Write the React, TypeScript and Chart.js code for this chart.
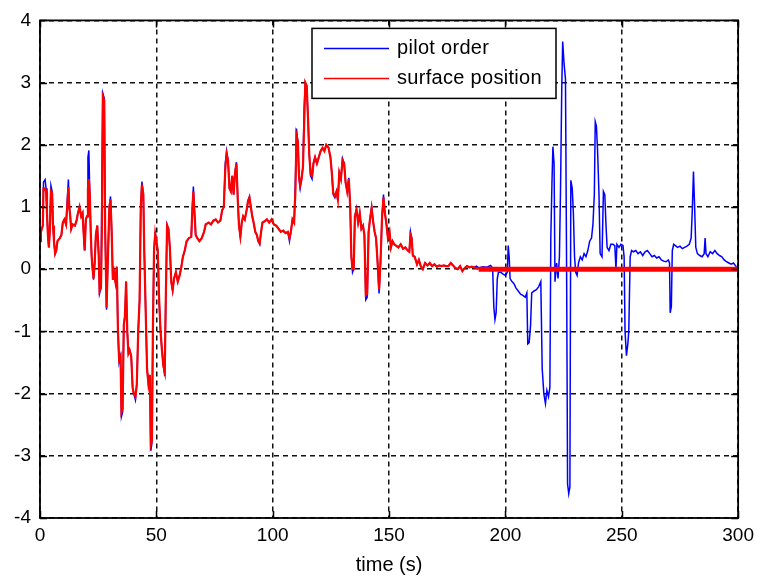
import { useEffect, useRef } from "react";
import { Chart, registerables } from "chart.js";

Chart.register(...registerables);

const xTicks = [0, 50, 100, 150, 200, 250, 300];
const yTicks = [-4, -3, -2, -1, 0, 1, 2, 3, 4];
const seriesLabels = ["pilot order", "surface position"];
const xTitle = "time (s)";

// [time (s), value]
const pilotOrder: [number, number][] = [
  [0,0.45],[0.4,0.6],[0.8,0.65],[1.2,0.7],[1.5,1.4],[2.2,1.44],[2.6,1.3],[3.0,0.9],[3.4,0.55],[3.8,0.35],
  [4.2,0.6],[4.7,1.34],[5.2,1.25],[5.6,0.7],[6.0,0.45],[6.5,0.25],[7.0,0.3],[7.5,0.45],[8.5,0.5],[9.2,0.55],
  [9.8,0.75],[10.5,0.8],[11.2,0.72],[11.7,1.1],[12.2,1.44],[12.6,1.0],[13.0,0.85],[13.4,0.65],[14.0,0.72],[15.0,0.7],
  [15.7,0.78],[16.3,0.9],[17.0,1.0],[17.7,0.85],[18.3,0.9],[18.8,0.55],[19.2,0.3],[19.7,0.8],[20.2,0.85],[20.6,1.8],
  [21.0,1.91],[21.4,1.2],[21.8,0.6],[22.2,0.2],[22.6,0.0],[23.0,-0.17],[23.5,0.1],[24.0,0.55],[24.6,0.7],[25.2,0.25],
  [25.6,-0.39],[26.2,-0.3],[26.6,1.4],[27.0,2.83],[27.6,2.75],[28.0,0.65],[28.6,-0.65],[29.2,0.2],[29.8,1.0],[30.3,1.17],
  [30.8,0.6],[31.3,-0.17],[31.8,-0.05],[32.4,-0.2],[33.0,0.04],[33.5,-1.0],[34.0,-1.5],[34.6,-1.4],[35.0,-2.37],[35.5,-2.3],
  [36.0,-0.9],[36.5,-0.75],[37.0,-0.2],[37.5,-1.0],[38.0,-1.35],[38.5,-1.3],[39.2,-1.4],[39.8,-1.9],[40.3,-2.0],[41.0,-2.1],
  [41.6,-1.85],[42.2,-1.0],[42.8,-0.5],[43.3,1.0],[43.8,1.41],[44.4,1.2],[44.8,0.3],[45.2,-0.33],[45.6,-0.97],[46.0,-1.6],
  [46.6,-1.85],[47.2,-1.7],[47.6,-2.92],[48.1,-2.8],[48.5,-1.0],[49.0,0.3],[49.5,0.6],[50.0,0.45],[50.6,0.3],[51.2,-0.5],
  [51.8,-1.0],[52.4,-1.3],[53.0,-1.55],[53.6,-1.72],[54.0,-0.6],[54.6,0.72],[55.2,0.65],[55.8,0.35],[56.4,-0.2],[57.0,-0.35],
  [57.6,-0.15],[58.4,-0.05],[59.2,-0.2],[60.0,-0.1],[60.8,0.05],[61.4,0.2],[62.2,0.3],[63.0,0.45],[64.0,0.5],[65.0,0.52],
  [65.5,1.0],[65.9,1.33],[66.4,0.9],[66.9,0.55],[67.6,0.5],[68.5,0.45],[69.5,0.5],[70.5,0.6],[71.2,0.72],[72.5,0.75],
  [73.5,0.72],[74.5,0.78],[75.5,0.8],[76.5,0.75],[77.5,0.78],[78.3,0.95],[79.0,1.0],[79.6,1.7],[80.2,1.9],[80.8,1.75],
  [81.4,1.3],[82.0,1.25],[82.6,1.5],[83.2,1.2],[83.8,1.55],[84.4,1.72],[85.0,1.1],[85.5,0.7],[86.1,0.51],[86.7,0.75],
  [87.3,0.85],[88.0,0.8],[88.8,0.95],[89.4,1.1],[90.0,1.17],[90.6,1.0],[91.2,0.85],[91.8,0.75],[92.5,0.6],[93.2,0.55],
  [93.8,0.45],[94.4,0.4],[95.0,0.6],[95.6,0.75],[96.5,0.77],[97.5,0.8],[98.5,0.75],[99.5,0.8],[100.5,0.72],[101.5,0.7],
  [102.5,0.65],[103.5,0.6],[104.5,0.62],[105.5,0.58],[106.5,0.6],[107.2,0.45],[107.8,0.6],[108.5,0.8],[109.2,0.75],[109.8,1.5],
  [110.2,2.26],[110.8,2.05],[111.3,1.45],[111.8,1.3],[112.4,1.45],[113.0,1.65],[113.5,2.58],[114.0,3.0],[114.6,2.95],[115.2,2.4],
  [115.7,1.85],[116.3,1.5],[116.9,1.45],[117.5,1.7],[118.2,1.8],[119.0,1.7],[119.8,1.8],[120.6,1.9],[121.4,1.95],[122.2,1.9],
  [123.0,2.0],[124.0,1.95],[124.8,1.8],[125.4,1.55],[126.0,1.2],[126.7,1.15],[127.4,1.25],[128.0,1.1],[128.6,1.55],[129.3,1.45],
  [130.0,1.78],[130.7,1.7],[131.3,1.4],[132.0,1.25],[132.7,1.47],[133.3,1.0],[133.8,0.2],[134.3,-0.05],[134.8,0.0],[135.3,0.85],
  [136.0,0.98],[136.7,0.75],[137.4,0.9],[138.1,0.65],[138.8,0.7],[139.4,0.55],[140.0,-0.49],[140.6,-0.45],[141.2,0.6],[141.8,0.8],
  [142.5,1.0],[143.2,0.75],[143.8,0.6],[144.4,0.5],[145.0,0.15],[145.7,-0.39],[146.3,0.1],[147.0,0.85],[147.6,1.2],[148.2,0.9],
  [148.8,0.75],[149.5,0.5],[150.2,0.6],[150.8,0.35],[151.5,0.45],[152.2,0.4],[153.0,0.38],[154.0,0.35],[155.0,0.4],[156.0,0.33],
  [157.0,0.35],[158.0,0.3],[158.7,0.28],[159.2,0.6],[159.7,0.5],[160.2,0.22],[161.0,0.2],[162.0,0.08],[162.8,0.15],[163.6,0.05],
  [164.5,0.0],[165.5,0.1],[166.5,0.06],[167.5,0.1],[168.5,0.05],[169.5,0.08],[170.5,0.04],[171.5,0.06],[172.5,0.05],[173.5,0.06],
  [174.5,0.05],[175.5,0.05],[176.5,0.1],[177.5,0.06],[178.5,0.02],[179.5,0.0],[180.5,0.05],[181.5,-0.03],[182.5,0.02],[183.5,0.05],
  [184.5,0.03],[185.5,0.04],[186.5,0.03],[187.5,0.05],[188.5,0.02],[189.5,0.03],[190.5,0.04],[191.5,0.03],[192.5,0.04],[193.6,0.06],
  [194.5,0.02],[195.0,-0.6],[195.5,-0.81],[196.0,-0.7],[196.5,-0.15],[197.0,-0.05],[198.0,-0.05],[199.0,-0.08],[200.0,-0.1],[200.8,-0.05],
  [201.2,0.38],[201.6,0.2],[202.0,-0.15],[202.8,-0.2],[203.6,-0.23],[204.5,-0.3],[205.5,-0.35],[206.5,-0.4],[207.5,-0.42],[208.5,-0.45],
  [209.2,-0.38],[209.6,-1.2],[210.2,-1.18],[210.8,-0.9],[211.3,-0.38],[212.3,-0.35],[213.3,-0.33],[214.3,-0.28],[215.2,-0.2],[215.8,-1.6],
  [216.5,-2.0],[217.2,-2.16],[217.8,-1.95],[218.5,-2.05],[219.1,-1.9],[219.5,0.5],[220.0,1.4],[220.4,1.97],[220.9,1.7],[221.3,-0.2],
  [222.0,0.1],[222.6,-0.15],[223.2,0.2],[223.7,1.35],[224.2,2.9],[224.6,3.66],[225.2,3.3],[225.8,3.06],[226.3,-0.1],[226.7,-3.45],
  [227.2,-3.61],[227.7,-3.5],[228.1,1.43],[228.7,1.3],[229.2,0.9],[229.7,0.2],[230.2,-0.05],[230.8,-0.1],[231.4,0.1],[232.2,0.2],
  [233.0,0.15],[233.8,0.25],[234.6,0.2],[235.4,0.3],[236.2,0.45],[237.0,0.5],[237.6,0.72],[238.2,1.2],[238.6,2.37],[239.1,2.3],
  [239.6,1.9],[240.2,1.2],[240.7,0.25],[241.5,0.2],[242.1,1.25],[242.7,1.2],[243.2,0.72],[243.7,0.35],[244.5,0.3],[245.3,0.4],
  [246.2,0.4],[247.0,0.38],[247.5,0.0],[247.9,0.4],[248.8,0.35],[249.6,0.4],[250.5,0.38],[251.0,0.2],[251.4,-1.0],[252.0,-1.39],
  [252.6,-1.2],[253.0,-1.0],[253.6,0.2],[254.2,0.3],[255.0,0.28],[256.0,0.3],[257.0,0.25],[258.0,0.28],[259.0,0.22],[260.0,0.28],
  [261.0,0.3],[262.0,0.25],[263.0,0.2],[264.0,0.22],[265.0,0.18],[266.0,0.2],[267.0,0.15],[268.0,0.13],[269.0,0.12],[270.0,0.15],
  [270.5,0.1],[270.8,-0.7],[271.3,-0.6],[271.7,0.3],[272.3,0.4],[273.0,0.38],[274.0,0.35],[275.0,0.37],[276.0,0.33],[277.0,0.35],
  [278.0,0.37],[279.0,0.4],[279.8,0.5],[280.3,0.95],[280.8,1.57],[281.3,1.0],[281.8,0.35],[282.5,0.25],[283.5,0.22],[284.5,0.2],
  [285.4,0.25],[285.8,0.5],[286.2,0.25],[287.0,0.2],[288.0,0.28],[289.0,0.25],[290.0,0.3],[291.0,0.25],[292.0,0.22],[293.0,0.2],
  [294.0,0.15],[295.0,0.12],[296.0,0.1],[297.0,0.08],[298.0,0.1],[299.0,0.05],[300.0,0.0],
];

// [time (s), value]
const surfacePosition: [number, number][] = [
  [0,0.45],[0.4,0.6],[0.8,0.65],[1.2,0.7],[1.5,1.3],[2.2,1.3],[2.6,1.25],[3.0,0.9],[3.4,0.55],[3.8,0.35],
  [4.2,0.6],[4.7,1.25],[5.2,1.22],[5.6,0.7],[6.0,0.45],[6.5,0.25],[7.0,0.3],[7.5,0.45],[8.5,0.5],[9.2,0.55],
  [9.8,0.75],[10.5,0.8],[11.2,0.72],[11.7,1.0],[12.2,1.32],[12.6,1.0],[13.0,0.85],[13.4,0.65],[14.0,0.72],[15.0,0.7],
  [15.7,0.78],[16.3,0.9],[17.0,1.0],[17.7,0.85],[18.3,0.9],[18.8,0.55],[19.2,0.3],[19.7,0.8],[20.2,0.85],[20.6,1.3],
  [21.0,1.45],[21.4,1.2],[21.8,0.6],[22.2,0.2],[22.6,0.0],[23.0,-0.15],[23.5,0.1],[24.0,0.55],[24.6,0.7],[25.2,0.25],
  [25.6,-0.35],[26.2,-0.3],[26.6,0.6],[27.0,2.78],[27.6,2.72],[28.0,0.65],[28.6,-0.62],[29.2,0.2],[29.8,1.0],[30.3,1.12],
  [30.8,0.6],[31.3,-0.17],[31.8,-0.05],[32.4,-0.2],[33.0,0.04],[33.5,-1.0],[34.0,-1.45],[34.6,-1.4],[35.0,-2.3],[35.5,-2.25],
  [36.0,-0.9],[36.5,-0.75],[37.0,-0.2],[37.5,-1.0],[38.0,-1.35],[38.5,-1.3],[39.2,-1.4],[39.8,-1.9],[40.3,-2.0],[41.0,-2.05],
  [41.6,-1.85],[42.2,-1.0],[42.8,-0.5],[43.3,1.0],[43.8,1.36],[44.4,1.2],[44.8,0.3],[45.2,-0.33],[45.6,-0.97],[46.0,-1.6],
  [46.6,-1.85],[47.2,-1.7],[47.6,-2.82],[48.1,-2.75],[48.5,-1.0],[49.0,0.3],[49.5,0.57],[50.0,0.45],[50.6,0.3],[51.2,-0.5],
  [51.8,-1.0],[52.4,-1.3],[53.0,-1.55],[53.6,-1.65],[54.0,-0.6],[54.6,0.7],[55.2,0.65],[55.8,0.35],[56.4,-0.2],[57.0,-0.33],
  [57.6,-0.15],[58.4,-0.05],[59.2,-0.2],[60.0,-0.1],[60.8,0.05],[61.4,0.2],[62.2,0.3],[63.0,0.45],[64.0,0.5],[65.0,0.52],
  [65.5,1.0],[65.9,1.25],[66.4,0.9],[66.9,0.55],[67.6,0.5],[68.5,0.45],[69.5,0.5],[70.5,0.6],[71.2,0.72],[72.5,0.75],
  [73.5,0.72],[74.5,0.78],[75.5,0.8],[76.5,0.75],[77.5,0.78],[78.3,0.95],[79.0,1.0],[79.6,1.6],[80.2,1.85],[80.8,1.75],
  [81.4,1.3],[82.0,1.25],[82.6,1.5],[83.2,1.2],[83.8,1.55],[84.4,1.7],[85.0,1.1],[85.5,0.7],[86.1,0.53],[86.7,0.75],
  [87.3,0.85],[88.0,0.8],[88.8,0.95],[89.4,1.1],[90.0,1.15],[90.6,1.0],[91.2,0.85],[91.8,0.75],[92.5,0.6],[93.2,0.55],
  [93.8,0.45],[94.4,0.42],[95.0,0.6],[95.6,0.75],[96.5,0.77],[97.5,0.8],[98.5,0.75],[99.5,0.8],[100.5,0.72],[101.5,0.7],
  [102.5,0.65],[103.5,0.6],[104.5,0.62],[105.5,0.58],[106.5,0.6],[107.2,0.5],[107.8,0.6],[108.5,0.8],[109.2,0.75],[109.8,1.3],
  [110.2,2.15],[110.8,2.05],[111.3,1.5],[111.8,1.35],[112.4,1.45],[113.0,1.65],[113.5,2.3],[114.0,3.0],[114.6,2.95],[115.2,2.4],
  [115.7,1.85],[116.3,1.52],[116.9,1.5],[117.5,1.7],[118.2,1.8],[119.0,1.7],[119.8,1.8],[120.6,1.9],[121.4,1.95],[122.2,1.9],
  [123.0,2.0],[124.0,1.95],[124.8,1.8],[125.4,1.55],[126.0,1.22],[126.7,1.18],[127.4,1.25],[128.0,1.12],[128.6,1.55],[129.3,1.45],
  [130.0,1.75],[130.7,1.7],[131.3,1.4],[132.0,1.25],[132.7,1.45],[133.3,1.0],[133.8,0.2],[134.3,0.0],[134.8,0.0],[135.3,0.85],
  [136.0,0.95],[136.7,0.75],[137.4,0.9],[138.1,0.65],[138.8,0.7],[139.4,0.55],[140.0,-0.42],[140.6,-0.4],[141.2,0.6],[141.8,0.8],
  [142.5,0.98],[143.2,0.75],[143.8,0.6],[144.4,0.5],[145.0,0.15],[145.7,-0.33],[146.3,0.1],[147.0,0.85],[147.6,1.15],[148.2,0.9],
  [148.8,0.75],[149.5,0.5],[150.2,0.6],[150.8,0.35],[151.5,0.45],[152.2,0.4],[153.0,0.38],[154.0,0.35],[155.0,0.4],[156.0,0.33],
  [157.0,0.35],[158.0,0.3],[158.7,0.28],[159.2,0.55],[159.7,0.5],[160.2,0.22],[161.0,0.2],[162.0,0.08],[162.8,0.15],[163.6,0.05],
  [164.5,0.0],[165.5,0.1],[166.5,0.06],[167.5,0.1],[168.5,0.05],[169.5,0.08],[170.5,0.04],[171.5,0.06],[172.5,0.05],[173.5,0.06],
  [174.5,0.05],[175.5,0.05],[176.5,0.1],[177.5,0.06],[178.5,0.02],[179.5,0.0],[180.5,0.05],[181.5,-0.03],[182.5,0.02],[183.5,0.05],
  [184.5,0.03],[185.5,0.04],[186.5,0.03],[187.5,0.02],[188.5,0.0],[300.0,0.0],
];

const FONT = "'Liberation Sans', Arial, Helvetica, sans-serif";
const BLUE = "#0000ff";
const RED = "#ff0000";

const framePlugin = {
  id: "matlabFrame",
  afterDraw(chart: any) {
    const { ctx, chartArea: a, scales } = chart;
    const xs = scales.x;
    const ys = scales.y;
    ctx.save();
    ctx.strokeStyle = "#000";
    ctx.lineWidth = 1.5;
    ctx.setLineDash([]);
    const tl = 7;
    ctx.beginPath();
    xs.ticks.forEach((t: any) => {
      const px = Math.round(xs.getPixelForValue(t.value)) + 0.5;
      ctx.moveTo(px, a.bottom);
      ctx.lineTo(px, a.bottom - tl);
      ctx.moveTo(px, a.top);
      ctx.lineTo(px, a.top + tl);
    });
    ys.ticks.forEach((t: any) => {
      const py = Math.round(ys.getPixelForValue(t.value)) + 0.5;
      ctx.moveTo(a.left, py);
      ctx.lineTo(a.left + tl, py);
      ctx.moveTo(a.right, py);
      ctx.lineTo(a.right - tl, py);
    });
    ctx.stroke();
    ctx.lineWidth = 1.8;
    ctx.strokeRect(a.left, a.top, a.right - a.left, a.bottom - a.top);

    // legend box
    const bx = a.left + 272;
    const by = a.top + 8;
    const bw = 244;
    const bh = 70;
    ctx.fillStyle = "#fff";
    ctx.fillRect(bx, by, bw, bh);
    ctx.lineWidth = 1.5;
    ctx.strokeStyle = "#000";
    ctx.strokeRect(bx, by, bw, bh);
    const rows = chart.data.datasets.map((d: any) => ({ label: d.label, color: d.borderColor }));
    rows.forEach((r: any, i: number) => {
      const yy = by + 20 + i * 30;
      ctx.strokeStyle = r.color;
      ctx.lineWidth = 1.5;
      ctx.beginPath();
      ctx.moveTo(bx + 12, yy);
      ctx.lineTo(bx + 77, yy);
      ctx.stroke();
      ctx.fillStyle = "#000";
      ctx.font = `20px ${FONT}`;
      ctx.textAlign = "left";
      ctx.textBaseline = "middle";
      try { (ctx as any).letterSpacing = "0.3px"; } catch (e) {}
      ctx.fillText(r.label, bx + 85, yy);
    });
    ctx.restore();
  },
};

export default function App() {
  const ref = useRef<HTMLCanvasElement | null>(null);
  useEffect(() => {
    if (!ref.current) return;
    const chart = new Chart(ref.current, {
      type: "line",
      data: {
        datasets: [
          {
            label: seriesLabels[0],
            data: pilotOrder.map(([x, y]) => ({ x, y })),
            borderColor: BLUE,
            borderWidth: 1.5,
            pointRadius: 0,
            tension: 0,
            order: 2,
          },
          {
            label: seriesLabels[1],
            data: surfacePosition.map(([x, y]) => ({ x, y })),
            borderColor: RED,
            borderWidth: 2.2,
            pointRadius: 0,
            tension: 0,
            order: 1,
            segment: {
              borderWidth: (c: any) => (c.p0.parsed.x >= 188 ? 5 : 2.2),
            },
          },
        ],
      },
      options: {
        responsive: false,
        animation: false,
        devicePixelRatio: 1,
        layout: { padding: { top: 14, right: 20, left: 0, bottom: 0 } },
        plugins: { legend: { display: false }, tooltip: { enabled: false } },
        scales: {
          x: {
            type: "linear",
            min: 0,
            max: 300,
            afterBuildTicks: (s: any) => {
              s.ticks = xTicks.map((v) => ({ value: v }));
            },
            afterFit: (s: any) => {
              s.height = 62;
            },
            ticks: {
              font: { family: FONT, size: 19 },
              color: "#000",
              padding: 6,
              maxRotation: 0,
              autoSkip: false,
            },
            grid: { color: "#111", lineWidth: 1.5, drawTicks: false },
            border: { display: false, dash: [5, 4] },
            title: {
              display: true,
              text: xTitle,
              font: { family: FONT, size: 20 },
              color: "#000",
              padding: { top: 0, bottom: 3 },
            },
          },
          y: {
            type: "linear",
            min: -4,
            max: 4,
            afterBuildTicks: (s: any) => {
              s.ticks = yTicks.map((v) => ({ value: v }));
            },
            afterFit: (s: any) => {
              s.width = 40;
            },
            ticks: {
              font: { family: FONT, size: 19 },
              color: "#000",
              padding: 9,
              autoSkip: false,
            },
            grid: { color: "#111", lineWidth: 1.5, drawTicks: false },
            border: { display: false, dash: [5, 4] },
          },
        },
      },
      plugins: [framePlugin],
    });
    return () => chart.destroy();
  }, []);
  return (
    <div style={{ position: "fixed", left: 0, top: 0, width: 760, height: 580, background: "#fff" }}>
      <canvas ref={ref} width={760} height={580} style={{ display: "block" }} />
    </div>
  );
}
